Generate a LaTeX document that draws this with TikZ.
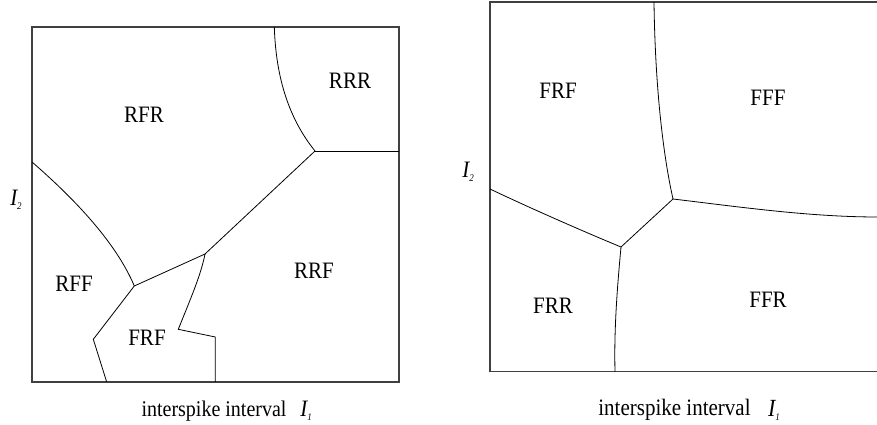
\documentclass[tikz,border=0pt]{standalone}
\usepackage{fontspec}
\setmainfont{Liberation Serif}
\newcommand{\tallt}[1]{\scalebox{1}[1.12]{#1}}
\begin{document}
\begin{tikzpicture}[x=1pt,y=-1pt,
  frame/.style={draw=black!75,line width=1.1pt},
  bound/.style={draw=black,line width=0.8pt},
  region/.style={font=\fontsize{21}{24}\selectfont,inner sep=0pt},
  axlab/.style={font=\fontsize{20}{24}\selectfont,inner sep=0pt},
  ilab/.style={font=\fontsize{21}{24}\selectfont\itshape,inner sep=0pt}]
\useasboundingbox (0,0) rectangle (877,425);
% ---------- left panel ----------
\draw[frame] (32,27) rectangle (399,382);
\coordinate (a) at (315,151);
\coordinate (b) at (205,254);
\coordinate (c) at (134.3,286);
\coordinate (d) at (178.3,329.3);
\coordinate (e) at (215.3,337);
\coordinate (f) at (93.3,339.3);
\draw[bound] (274.3,27) .. controls (276,80) and (290,120) .. (a);
\draw[bound] (a) -- (399,151);
\draw[bound] (a) -- (b) -- (c);
\draw[bound] (32,162) .. controls (70,195) and (115,240) .. (c);
\draw[bound] (c) -- (f) -- (106.7,382);
\draw[bound] (b) .. controls (201,275) and (190,300) .. (d) -- (e) -- (215.3,382);
\node[region] (rfr) at (144,115) {\tallt{RFR}};
\node[region] (rrr) at (350,81) {\tallt{RRR}};
\node[region] (rff) at (74,284) {\tallt{RFF}};
\node[region] (rrf) at (314,271) {\tallt{RRF}};
\node[region] (frf1) at (147,338) {\tallt{FRF}};
\node[ilab] (i2a) at (16,200) {\tallt{I\raisebox{-0.35ex}{\fontsize{9}{9}\selectfont 2}}};
\node[axlab] (xa) at (214,411) {\tallt{interspike interval}};
\node[ilab] (i1a) at (306,411) {\tallt{I\raisebox{-0.35ex}{\fontsize{9}{9}\selectfont 1}}};
% ---------- right panel ----------
\draw[frame] (880,2) -- (490,2) -- (490,371.5) -- (880,371.5);
\coordinate (p) at (673,199);
\coordinate (q) at (621,247);
\draw[bound] (654,2) .. controls (655,80) and (662,150) .. (p);
\draw[bound] (p) .. controls (740,207) and (810,217) .. (878,217);
\draw[bound] (490,189) .. controls (530,208) and (580,230) .. (q);
\draw[bound] (q) -- (p);
\draw[bound] (q) .. controls (617,290) and (614,330) .. (615,371.5);
\node[region] (frf2) at (558,91) {\tallt{FRF}};
\node[region] (fff) at (768,98) {\tallt{FFF}};
\node[region] (frr) at (553,306) {\tallt{FRR}};
\node[region] (ffr) at (768,300) {\tallt{FFR}};
\node[ilab] (i2b) at (468,172) {\tallt{I\raisebox{-0.35ex}{\fontsize{9}{9}\selectfont 2}}};
\node[axlab,font=\fontsize{21}{24}\selectfont] (xb) at (674.5,410) {\tallt{interspike interval}};
\node[ilab,font=\fontsize{22}{24}\selectfont\itshape] (i1b) at (774,410) {\tallt{I\raisebox{-0.35ex}{\fontsize{9}{9}\selectfont 1}}};
\end{tikzpicture}
\end{document}
